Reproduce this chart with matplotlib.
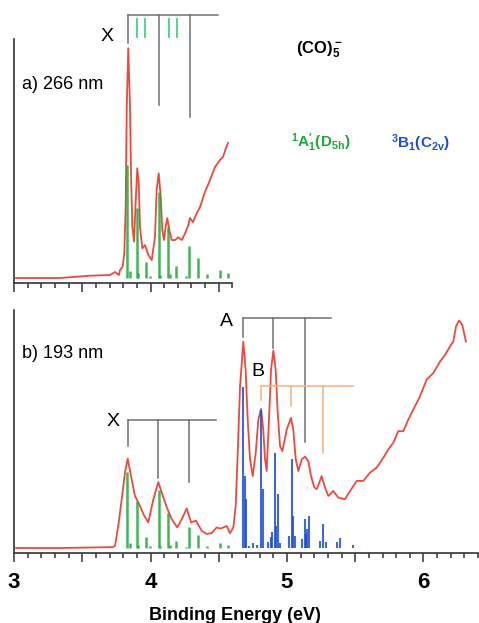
import matplotlib
matplotlib.use('Agg')
import matplotlib.pyplot as plt
from matplotlib.ticker import MultipleLocator, FuncFormatter

plt.rcParams['font.family'] = ['Liberation Sans', 'DejaVu Sans']
plt.rcParams['mathtext.fontset'] = 'custom'
plt.rcParams['mathtext.rm'] = 'Liberation Sans'
plt.rcParams['mathtext.bf'] = 'Liberation Sans:bold'
plt.rcParams['mathtext.it'] = 'Liberation Sans:italic'

# a) 266 nm spectrum (binding energy eV, intensity a.u.)
top_energy = [3.015, 3.337, 3.557, 3.703, 3.740, 3.769, 3.777, 3.796, 3.808, 3.818,
              3.826, 3.837, 3.850, 3.857, 3.867, 3.879, 3.892, 3.903, 3.914, 3.923,
              3.940, 3.960, 3.984, 4.009, 4.033, 4.045, 4.060, 4.075, 4.086, 4.099,
              4.111, 4.123, 4.138, 4.155, 4.179, 4.204, 4.229, 4.253, 4.277, 4.289,
              4.311, 4.333, 4.363, 4.399, 4.436, 4.473, 4.509, 4.531, 4.553, 4.568]
top_signal = [0.000, 0.000, 0.010, 0.013, 0.026, 0.013, 0.035, 0.049, 0.109, 0.310,
              0.745, 0.999, 0.745, 0.457, 0.223, 0.158, 0.339, 0.477, 0.412, 0.223,
              0.129, 0.143, 0.100, 0.078, 0.180, 0.383, 0.455, 0.353, 0.209, 0.165,
              0.223, 0.260, 0.209, 0.165, 0.165, 0.177, 0.165, 0.194, 0.230, 0.261,
              0.243, 0.274, 0.309, 0.374, 0.426, 0.483, 0.513, 0.526, 0.565, 0.587]

# b) 193 nm spectrum
bot_energy = [3.015, 3.337, 3.725, 3.740, 3.764, 3.789, 3.813, 3.833, 3.862, 3.886,
              3.923, 3.952, 3.984, 4.021, 4.057, 4.082, 4.119, 4.155, 4.196, 4.229,
              4.265, 4.297, 4.333, 4.375, 4.412, 4.448, 4.485, 4.514, 4.546, 4.558,
              4.582, 4.607, 4.624, 4.639, 4.656, 4.680, 4.697, 4.712, 4.729, 4.749,
              4.771, 4.790, 4.810, 4.826, 4.839, 4.851, 4.868, 4.883, 4.900, 4.917,
              4.932, 4.949, 4.966, 4.998, 5.029, 5.046, 5.064, 5.083, 5.108, 5.132,
              5.156, 5.176, 5.200, 5.218, 5.254, 5.278, 5.303, 5.339, 5.376, 5.425,
              5.462, 5.511, 5.559, 5.608, 5.657, 5.706, 5.742, 5.779, 5.815, 5.852,
              5.889, 5.925, 5.974, 6.023, 6.072, 6.121, 6.158, 6.194, 6.218, 6.238,
              6.260, 6.284, 6.311]
bot_signal = [0.000, 0.000, 0.004, 0.010, 0.097, 0.213, 0.330, 0.390, 0.300, 0.227,
              0.184, 0.143, 0.112, 0.213, 0.288, 0.243, 0.178, 0.126, 0.090, 0.126,
              0.173, 0.112, 0.119, 0.075, 0.061, 0.065, 0.090, 0.085, 0.093, 0.096,
              0.065, 0.090, 0.184, 0.416, 0.706, 0.901, 0.778, 0.561, 0.387, 0.314,
              0.416, 0.561, 0.607, 0.517, 0.387, 0.336, 0.561, 0.778, 0.862, 0.778,
              0.590, 0.445, 0.423, 0.517, 0.568, 0.517, 0.387, 0.336, 0.387, 0.399,
              0.380, 0.314, 0.264, 0.257, 0.314, 0.264, 0.227, 0.249, 0.220, 0.213,
              0.249, 0.293, 0.293, 0.329, 0.351, 0.394, 0.430, 0.460, 0.510, 0.510,
              0.561, 0.604, 0.662, 0.735, 0.764, 0.814, 0.843, 0.880, 0.901, 0.967,
              0.993, 0.974, 0.901]

# simulated 1A1'(D5h) stick spectrum
d5h_energy = [3.830, 3.850, 3.899, 3.910, 3.965, 3.996, 4.064, 4.072, 4.126, 4.140,
              4.187, 4.260, 4.284, 4.350, 4.412, 4.509, 4.570]
d5h_top = [0.491, 0.030, 0.304, 0.020, 0.070, 0.010, 0.374, 0.012, 0.222, 0.018,
           0.052, 0.008, 0.139, 0.087, 0.017, 0.035, 0.022]
d5h_bot = [0.330, 0.020, 0.206, 0.014, 0.047, 0.007, 0.253, 0.008, 0.152, 0.012,
           0.032, 0.006, 0.093, 0.057, 0.010, 0.022, 0.014]

# simulated 3B1(C2v) stick spectrum
c2v_energy = [4.680, 4.692, 4.700, 4.725, 4.753, 4.782, 4.807, 4.822, 4.860, 4.880,
              4.888, 4.912, 4.919, 4.936, 4.950, 5.017, 5.034, 5.042, 5.059, 5.108,
              5.132, 5.140, 5.147, 5.163, 5.242, 5.262, 5.286, 5.364, 5.388, 5.486]
c2v_int = [0.704, 0.315, 0.213, 0.010, 0.020, 0.015, 0.604, 0.257, 0.025, 0.050,
           0.070, 0.416, 0.097, 0.235, 0.020, 0.054, 0.387, 0.140, 0.054, 0.040,
           0.126, 0.060, 0.083, 0.138, 0.030, 0.104, 0.025, 0.025, 0.042, 0.015]

# vibrational progressions: origin positions, end of comb, comb level, drop ends
prog_a_x = [3.837, 4.062, 4.289]
prog_a_x_end = 4.494
prog_a_x_level = 1.143
prog_a_x_ends = [1.023, 0.754, 0.700]
prog_a_green = [3.899, 3.960, 4.136, 4.196]

prog_b_x = [3.833, 4.057, 4.282]
prog_b_x_end = 4.480
prog_b_x_level = 0.561
prog_b_x_ends = [0.445, 0.307, 0.288]

prog_b_A = [4.680, 4.900, 5.132]
prog_b_A_end = 5.322
prog_b_A_level = 1.003
prog_b_A_ends = [0.923, 0.873, 0.462]

prog_b_B = [4.810, 5.029, 5.262]
prog_b_B_end = 5.486
prog_b_B_level = 0.709
prog_b_B_ends = [0.648, 0.619, 0.416]

red = '#ec4a3c'
green = '#1fa83a'
blue = '#1d4fd0'
grey = '#707070'
orange = '#f7b27c'

W, H = 479, 623
fig = plt.figure(figsize=(W / 100, H / 100), dpi=100)

px_per_ev = 136.5
left = 14 / W
ax1 = fig.add_axes([left, 1 - 283 / H, 1.6 * px_per_ev / W, (283 - 39) / H])
ax2 = fig.add_axes([left, 1 - 553 / H, 3.4 * px_per_ev / W, (553 - 310) / H])


def comb(ax, pos, end, level, ends, color):
    ax.plot([pos[0], end], [level, level], color=color, lw=1.1, clip_on=False)
    for p, e in zip(pos, ends):
        ax.plot([p, p], [level, e], color=color, lw=1.1, clip_on=False)


def style(ax, xmax, labels):
    ax.set_xlim(3, xmax)
    ax.set_ylim(-5 / 230, 1.039)
    for s in ['top', 'right']:
        ax.spines[s].set_visible(False)
    for s in ['left', 'bottom']:
        ax.spines[s].set_color('#333333')
        ax.spines[s].set_linewidth(1.2)
    ax.set_yticks([])
    ax.xaxis.set_major_locator(MultipleLocator(0.5))
    ax.xaxis.set_minor_locator(MultipleLocator(0.1))
    ax.tick_params(axis='x', which='major', direction='out', length=6.5, width=1.1,
                   color='#333333', pad=7, labelsize=16)
    ax.tick_params(axis='x', which='minor', direction='out', length=3.5, width=1.1,
                   color='#333333')
    if labels:
        ax.xaxis.set_major_formatter(FuncFormatter(
            lambda v, p: str(int(round(v))) if abs(v - round(v)) < 1e-6 else ''))
        for t in ax.get_xticklabels():
            t.set_fontweight('bold')
    else:
        ax.set_xticklabels([])


# top panel
style(ax1, 4.6, False)
ax1.plot(top_energy, top_signal, color=red, lw=1.3, zorder=2)
ax1.vlines(d5h_energy, 0, d5h_top, color=green, lw=1.8, alpha=0.85, zorder=3)
comb(ax1, prog_a_x, prog_a_x_end, prog_a_x_level, prog_a_x_ends, grey)
ax1.vlines(prog_a_green, 1.043, 1.130, color='#3ed67c', lw=1.3, clip_on=False)
ax1.text(3.681, 1.048, 'X', fontsize=14, ha='center', va='center')
ax1.text(3.059, 0.843, 'a) 266 nm', fontsize=13, ha='left', va='center')

# bottom panel
style(ax2, 6.4, True)
ax2.plot(bot_energy, bot_signal, color=red, lw=1.3, zorder=2)
ax2.vlines(d5h_energy, 0, d5h_bot, color=green, lw=1.8, alpha=0.85, zorder=3)
ax2.vlines(c2v_energy, 0, c2v_int, color=blue, lw=1.5, alpha=0.85, zorder=3)
comb(ax2, prog_b_x, prog_b_x_end, prog_b_x_level, prog_b_x_ends, grey)
comb(ax2, prog_b_A, prog_b_A_end, prog_b_A_level, prog_b_A_ends, grey)
comb(ax2, prog_b_B, prog_b_B_end, prog_b_B_level, prog_b_B_ends, orange)
ax2.text(3.725, 0.552, 'X', fontsize=14, ha='center', va='center')
ax2.text(4.560, 0.987, 'A', fontsize=14, ha='center', va='center')
ax2.text(4.788, 0.770, 'B', fontsize=14, ha='center', va='center')
ax2.text(3.059, 0.848, 'b) 193 nm', fontsize=13, ha='left', va='center')

fig.text(319 / W, 1 - 50 / H, r'$\mathbf{(CO)_5^-}$', fontsize=12, ha='center', va='center')
fig.text(321 / W, 1 - 143 / H, r"$\mathbf{^{1}A_{1}^{\prime}(D_{5h})}$", fontsize=11,
         color=green, ha='center', va='center')
fig.text(420 / W, 1 - 143 / H, r'$\mathbf{^{3}B_{1}(C_{2v})}$', fontsize=11,
         color=blue, ha='center', va='center')
fig.text(235 / W, 1 - 616 / H, 'Binding Energy (eV)', fontsize=13, fontweight='bold',
         ha='center', va='center')

fig.savefig('out.png', dpi=100)
